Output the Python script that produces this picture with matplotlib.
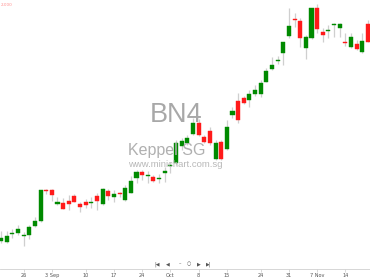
import matplotlib
matplotlib.use("Agg")
import matplotlib.pyplot as plt

# daily OHLC, one entry per trading day
opens = [5.59, 5.58, 5.66, 5.67, 5.64, 5.65, 5.74, 5.79, 6.10, 6.10,
         5.96, 5.97, 5.99, 6.04, 5.96, 5.98, 5.97, 6.04, 5.96, 6.09,
         6.03, 6.07, 6.00, 6.07, 6.22, 6.28, 6.24, 6.23, 6.21, 6.27,
         6.34, 6.37, 6.54, 6.57, 6.66, 6.77, 6.63, 6.69, 6.41, 6.58,
         6.51, 6.85, 6.99, 7.02, 7.00, 7.06, 7.06, 7.18, 7.31, 7.39,
         7.47, 7.64, 7.81, 7.79, 7.52, 7.62, 7.92, 7.68, 7.69, 7.75,
         7.72, 7.58, 7.53, 7.56, 7.48, 7.76]
highs = [5.69, 5.69, 5.71, 5.75, 5.68, 5.75, 5.83, 6.10, 6.11, 6.11,
         6.03, 6.02, 6.05, 6.06, 5.98, 6.01, 6.03, 6.07, 6.12, 6.11,
         6.10, 6.08, 6.15, 6.24, 6.30, 6.30, 6.29, 6.25, 6.26, 6.33,
         6.38, 6.60, 6.62, 6.65, 6.82, 6.81, 6.65, 6.73, 6.60, 6.60,
         6.80, 6.93, 7.07, 7.04, 7.10, 7.15, 7.20, 7.32, 7.43, 7.44,
         7.58, 7.92, 7.87, 7.82, 7.65, 7.92, 7.96, 7.72, 7.75, 7.77,
         7.77, 7.67, 7.67, 7.60, 7.67, 7.80]
lows = [5.57, 5.57, 5.62, 5.65, 5.54, 5.61, 5.73, 5.78, 6.06, 5.99,
        5.95, 5.91, 5.90, 5.98, 5.88, 5.92, 5.92, 5.90, 5.95, 6.00,
        5.98, 6.03, 5.99, 6.07, 6.17, 6.20, 6.17, 6.18, 6.17, 6.18,
        6.27, 6.35, 6.50, 6.55, 6.65, 6.64, 6.57, 6.55, 6.40, 6.40,
        6.50, 6.82, 6.77, 6.96, 6.93, 7.04, 7.03, 7.18, 7.30, 7.36,
        7.35, 7.62, 7.73, 7.53, 7.41, 7.61, 7.67, 7.58, 7.62, 7.63,
        7.63, 7.54, 7.52, 7.50, 7.47, 7.58]
closes = [5.62, 5.64, 5.67, 5.71, 5.65, 5.73, 5.79, 6.10, 6.09, 6.05,
          5.98, 5.91, 5.96, 5.98, 5.93, 5.95, 5.98, 5.99, 6.11, 6.04,
          6.06, 6.06, 6.12, 6.19, 6.28, 6.25, 6.25, 6.19, 6.22, 6.29,
          6.35, 6.57, 6.59, 6.62, 6.77, 6.65, 6.58, 6.57, 6.57, 6.41,
          6.73, 6.89, 6.80, 6.97, 7.06, 7.10, 7.17, 7.29, 7.35, 7.40,
          7.58, 7.74, 7.80, 7.62, 7.63, 7.92, 7.71, 7.65, 7.70, 7.76,
          7.76, 7.57, 7.63, 7.51, 7.59, 7.58]

tick_idx = [4, 9, 15, 20, 25, 30, 35, 40, 46, 51, 56, 61]
tick_labels = ["26", "3 Sep", "10", "17", "24", "Oct", "8", "15",
               "24", "31", "7 Nov", "14"]

up_color = "#008a00"
down_color = "#ff1a1a"
wick_color = "#cfcfcf"

fig = plt.figure(figsize=(3.7, 2.78), dpi=100)
ax = fig.add_axes([0, 9 / 278, 1, 269 / 278])

# watermark behind the candles
fig.text(0.476, 0.586, "BN4", fontsize=19.5, color="#a8a8a8",
         family="Liberation Sans", ha="center", va="center", zorder=0)
fig.text(0.346, 0.46, "Keppel SG", fontsize=11.5, color="#b0b0b0",
         family="Liberation Sans", ha="left", va="center", zorder=0)
fig.text(0.474, 0.407, "www.minichart.com.sg", fontsize=6.8, color="#b8b8b8",
         family="Liberation Sans", ha="center", va="center", zorder=0)
ax.patch.set_alpha(0)

for i in range(len(opens)):
    o, h, l, c = opens[i], highs[i], lows[i], closes[i]
    col = up_color if c >= o else down_color
    ax.vlines(i, l, h, color=wick_color, lw=0.9, zorder=2)
    ax.bar(i, max(abs(c - o), 0.01), bottom=min(o, c), width=0.72,
           color=col, edgecolor=col, lw=0.3, zorder=3)

ax.set_xlim(-0.18, 65.36)
ax.set_ylim(8.00 - 2.69, 8.00)

for s in ["top", "right", "left"]:
    ax.spines[s].set_visible(False)
ax.spines["bottom"].set_color("#d0d0d0")
ax.spines["bottom"].set_linewidth(0.6)
ax.set_yticks([])
ax.set_xticks(tick_idx)
ax.set_xticklabels(tick_labels)
ax.tick_params(axis="x", length=2, width=0.4, color="#bbbbbb",
               labelsize=3.6, labelcolor="#555555", pad=1.2)

# navigation buttons
nav = [(157, "|◀"), (168, "◀"), (180, "–"), (189, "○"), (199, "▶"), (209, "▶|")]
for px, g in nav:
    fig.text(px / 370, 1 - 264 / 278, g, fontsize=3.5, color="#555555",
             ha="center", va="center")

fig.text(0.002, 1 - 5.5 / 278, "2.000", fontsize=3, color="#ff4040",
         alpha=0.6, ha="left", va="center")

fig.savefig("out.png", dpi=100)
